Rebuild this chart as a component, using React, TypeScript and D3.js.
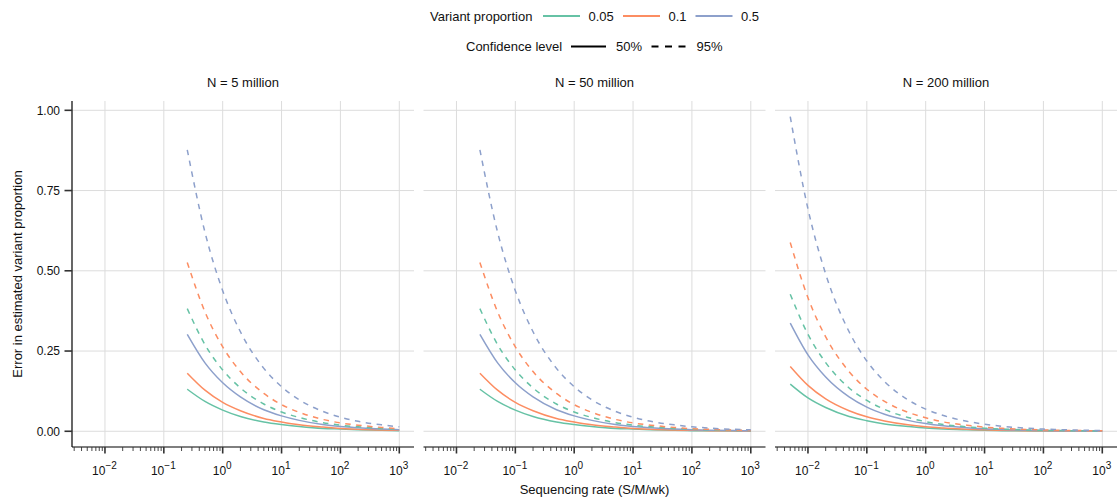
import React from 'react';
import * as d3 from 'd3';

// sequencing rates (S/M/wk) sampled per panel
const rates5 = [0.25, 0.5, 1, 2, 5, 10, 20, 50, 100, 200, 500, 1000];
const rates50 = [0.025, 0.05, 0.1, 0.2, 0.5, 1, 2, 5, 10, 20, 50, 100, 200, 500, 1000];
const rates200 = [0.005, 0.01, 0.02, 0.05, 0.1, 0.2, 0.5, 1, 2, 5, 10, 20, 50, 100, 200, 500, 1000];

const proportions = ['0.05', '0.1', '0.5'];
const levels = ['50%', '95%'];
const panelTitles = ['N = 5 million', 'N = 50 million', 'N = 200 million'];

// error in estimated variant proportion, one list per proportion / level
const err5 = {
  '0.05|50%': [0.131, 0.093, 0.066, 0.046, 0.029, 0.021, 0.015, 0.009, 0.007, 0.005, 0.003, 0.002],
  '0.1|50%': [0.181, 0.128, 0.090, 0.064, 0.040, 0.029, 0.020, 0.013, 0.009, 0.006, 0.004, 0.003],
  '0.5|50%': [0.302, 0.213, 0.151, 0.107, 0.067, 0.048, 0.034, 0.021, 0.015, 0.011, 0.007, 0.005],
  '0.05|95%': [0.382, 0.270, 0.191, 0.135, 0.085, 0.060, 0.043, 0.027, 0.019, 0.014, 0.009, 0.006],
  '0.1|95%': [0.526, 0.372, 0.263, 0.186, 0.118, 0.083, 0.059, 0.037, 0.026, 0.019, 0.012, 0.008],
  '0.5|95%': [0.877, 0.620, 0.438, 0.310, 0.196, 0.139, 0.098, 0.062, 0.044, 0.031, 0.020, 0.014],
};
const err50 = {
  '0.05|50%': [0.131, 0.093, 0.066, 0.046, 0.029, 0.021, 0.015, 0.009, 0.007, 0.005, 0.003, 0.002, 0.0015, 0.0009, 0.0007],
  '0.1|50%': [0.181, 0.128, 0.090, 0.064, 0.040, 0.029, 0.020, 0.013, 0.009, 0.006, 0.004, 0.003, 0.002, 0.0013, 0.0009],
  '0.5|50%': [0.302, 0.213, 0.151, 0.107, 0.067, 0.048, 0.034, 0.021, 0.015, 0.011, 0.007, 0.005, 0.0034, 0.0021, 0.0015],
  '0.05|95%': [0.382, 0.270, 0.191, 0.135, 0.085, 0.060, 0.043, 0.027, 0.019, 0.014, 0.009, 0.006, 0.0043, 0.0027, 0.0019],
  '0.1|95%': [0.526, 0.372, 0.263, 0.186, 0.118, 0.083, 0.059, 0.037, 0.026, 0.019, 0.012, 0.008, 0.0059, 0.0037, 0.0026],
  '0.5|95%': [0.877, 0.620, 0.438, 0.310, 0.196, 0.139, 0.098, 0.062, 0.044, 0.031, 0.020, 0.014, 0.0098, 0.0062, 0.0044],
};
const err200 = {
  '0.05|50%': [0.147, 0.104, 0.074, 0.046, 0.033, 0.023, 0.015, 0.010, 0.007, 0.005, 0.003, 0.002, 0.0015, 0.001, 0.0007, 0.0005, 0.0003],
  '0.1|50%': [0.202, 0.143, 0.101, 0.064, 0.045, 0.032, 0.020, 0.014, 0.010, 0.006, 0.0045, 0.0032, 0.002, 0.0014, 0.001, 0.0006, 0.0005],
  '0.5|50%': [0.337, 0.238, 0.169, 0.107, 0.075, 0.053, 0.034, 0.024, 0.017, 0.011, 0.0075, 0.0053, 0.0034, 0.0024, 0.0017, 0.0011, 0.0008],
  '0.05|95%': [0.427, 0.302, 0.214, 0.135, 0.096, 0.068, 0.043, 0.030, 0.021, 0.014, 0.0096, 0.0068, 0.0043, 0.003, 0.0021, 0.0014, 0.001],
  '0.1|95%': [0.588, 0.416, 0.294, 0.186, 0.131, 0.093, 0.059, 0.042, 0.029, 0.019, 0.013, 0.0093, 0.0059, 0.0042, 0.0029, 0.0019, 0.0013],
  '0.5|95%': [0.980, 0.693, 0.490, 0.310, 0.219, 0.155, 0.098, 0.069, 0.049, 0.031, 0.022, 0.0155, 0.0098, 0.0069, 0.0049, 0.0031, 0.0022],
};

const xTickExps = [-2, -1, 0, 1, 2, 3];
const yTicks = [0, 0.25, 0.5, 0.75, 1];

const panels = [
  { title: panelTitles[0], rates: rates5, err: err5 },
  { title: panelTitles[1], rates: rates50, err: err50 },
  { title: panelTitles[2], rates: rates200, err: err200 },
];

const colors = { '0.05': '#66c2a5', '0.1': '#fc8d62', '0.5': '#8da0cb' };
const dash = { '50%': null, '95%': '5.5,5.5' };

const W = 1117, H = 497;
const panelLefts = [72, 423.5, 775];
const panelW = 342;
const top = 101, bottom = 447;
const font = '"Liberation Sans", Arial, Helvetica, sans-serif';

export default function App() {
  const y = d3.scaleLinear().domain([-0.049, 1.029]).range([bottom, top]);
  const minor: number[] = [];
  for (let e = -3; e <= 3; e++) for (let k = 1; k <= 9; k++) minor.push(k * Math.pow(10, e));

  return (
    <svg width={W} height={H} style={{ position: 'absolute', left: 0, top: 0, background: '#fff' }} fontFamily={font}>
      {/* legend */}
      <g fontSize={13} fill="#111">
        <text x={430} y={20.5}>Variant proportion</text>
        {proportions.map((p, i) => {
          const lx = [543, 623, 695.5][i];
          return (
            <g key={p}>
              <line x1={lx} x2={lx + 37} y1={16} y2={16} stroke={colors[p]} strokeWidth={2} />
              <text x={lx + 45.5} y={20.5}>{p}</text>
            </g>
          );
        })}
        <text x={466} y={51}>Confidence level</text>
        {levels.map((l, i) => {
          const lx = [571, 651.5][i];
          return (
            <g key={l}>
              <line x1={lx} x2={lx + 35} y1={46.5} y2={46.5} stroke="#000" strokeWidth={2}
                strokeDasharray={l === '95%' ? '7,6.5' : undefined} />
              <text x={lx + 45} y={51}>{l}</text>
            </g>
          );
        })}
      </g>

      {panels.map((pn, pi) => {
        const x0 = panelLefts[pi];
        const x = d3.scaleLog().domain([Math.pow(10, -2.56), Math.pow(10, 3.25)]).range([x0, x0 + panelW]);
        const line = d3.line<[number, number]>()
          .x(d => x(d[0]))
          .y(d => y(d[1]))
          .curve(d3.curveMonotoneX);
        const [dmin, dmax] = x.domain();
        return (
          <g key={pn.title}>
            <text x={x0 + panelW / 2} y={87} textAnchor="middle" fontSize={13} fill="#111">{pn.title}</text>
            {/* grid */}
            {yTicks.map(t => (
              <line key={'gy' + t} x1={x0} x2={x0 + panelW} y1={y(t)} y2={y(t)} stroke="#dcdcdc" strokeWidth={1} />
            ))}
            {xTickExps.map(e => (
              <line key={'gx' + e} x1={x(Math.pow(10, e))} x2={x(Math.pow(10, e))} y1={top} y2={bottom} stroke="#dcdcdc" strokeWidth={1} />
            ))}
            {/* curves */}
            {levels.map(l => proportions.map(p => {
              const vals: number[] = pn.err[p + '|' + l];
              const pts = pn.rates.map((r, i) => [r, vals[i]] as [number, number]);
              return (
                <path key={p + l} d={line(pts) || ''} fill="none" stroke={colors[p]} strokeWidth={1.5}
                  strokeDasharray={dash[l] || undefined} />
              );
            }))}
            {/* x axis */}
            <line x1={x0} x2={x0 + panelW} y1={bottom} y2={bottom} stroke="#000" strokeWidth={1.2} />
            {minor.filter(v => v >= dmin && v <= dmax).map(v => {
              const major = Math.abs(Math.log10(v) - Math.round(Math.log10(v))) < 1e-9;
              return (
                <line key={'mt' + v} x1={x(v)} x2={x(v)} y1={bottom} y2={bottom + (major ? 6.5 : 4)}
                  stroke="#333" strokeWidth={major ? 1.6 : 0.9} />
              );
            })}
            {xTickExps.map(e => (
              <text key={'xl' + e} x={x(Math.pow(10, e)) - 0.5} y={475} textAnchor="middle" fontSize={12} fill="#111">
                10<tspan dy={-6} fontSize={10}>{e < 0 ? '\u2212' + Math.abs(e) : String(e)}</tspan>
              </text>
            ))}
          </g>
        );
      })}

      {/* y axis (first panel only) */}
      <line x1={72} x2={72} y1={top} y2={bottom} stroke="#000" strokeWidth={1.2} />
      {yTicks.map(t => (
        <g key={'yt' + t}>
          <line x1={64.5} x2={72} y1={y(t)} y2={y(t)} stroke="#333" strokeWidth={1.6} />
          <text x={60} y={y(t) + 4.3} textAnchor="end" fontSize={12} fill="#111">{t.toFixed(2)}</text>
        </g>
      ))}

      {/* axis titles */}
      <text x={594.5} y={494} textAnchor="middle" fontSize={13} fill="#111">Sequencing rate (S/M/wk)</text>
      <text transform={`translate(22,${(top + bottom) / 2}) rotate(-90)`} textAnchor="middle" fontSize={13} fill="#111">
        Error in estimated variant proportion
      </text>
    </svg>
  );
}
